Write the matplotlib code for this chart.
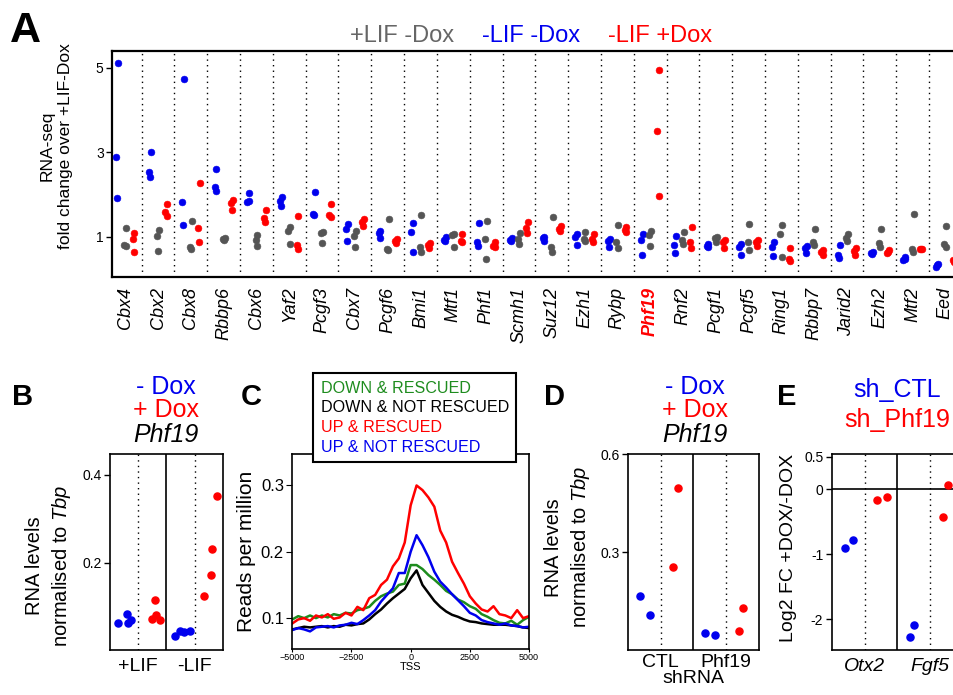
import numpy as np
import matplotlib
matplotlib.use("Agg")
import matplotlib.pyplot as plt

plt.rcParams['font.family'] = ['Liberation Sans', 'DejaVu Sans']
plt.rcParams['mathtext.fontset'] = 'custom'
plt.rcParams['mathtext.rm'] = 'Liberation Sans'
plt.rcParams['mathtext.it'] = 'Liberation Sans:italic'

# ---- panel A data : RNA-seq fold change over +LIF-Dox (3 replicates each)
genes = ['Cbx4', 'Cbx2', 'Cbx8', 'Rbbp6', 'Cbx6', 'Yaf2', 'Pcgf3', 'Cbx7', 'Pcgf6',
         'Bmi1', 'Mtf1', 'Phf1', 'Scmh1', 'Suz12', 'Ezh1', 'Rybp', 'Phf19', 'Rnf2',
         'Pcgf1', 'Pcgf5', 'Ring1', 'Rbbp7', 'Jarid2', 'Ezh2', 'Mtf2', 'Eed']
lif_nodox = [[1.22, 0.82, 0.78], [1.16, 1.02, 0.67], [1.37, 0.76, 0.72], [0.98, 0.95, 0.93],
             [1.05, 0.92, 0.79], [1.23, 1.13, 0.83], [1.11, 1.09, 0.85], [1.13, 1.02, 0.77],
             [1.42, 0.71, 0.70], [1.51, 0.76, 0.64], [1.07, 1.05, 0.77], [1.37, 0.96, 0.49],
             [1.09, 0.95, 0.83], [1.48, 0.77, 0.64], [1.11, 0.95, 0.90], [1.28, 0.87, 0.75],
             [1.13, 1.04, 0.79], [1.12, 0.93, 0.84], [1.01, 0.98, 0.87], [1.30, 0.88, 0.68],
             [1.28, 1.08, 0.53], [1.19, 0.89, 0.81], [1.06, 0.97, 0.90], [1.19, 0.85, 0.77],
             [1.55, 0.71, 0.64], [1.27, 0.84, 0.76]]
nolif_nodox = [[5.12, 2.89, 1.92], [3.00, 2.53, 2.41], [4.74, 1.83, 1.29], [2.60, 2.19, 2.08],
               [2.04, 1.83, 1.85], [1.94, 1.85, 1.73], [2.07, 1.54, 1.52], [1.30, 1.19, 0.90],
               [1.13, 1.09, 0.98], [1.33, 1.12, 0.65], [1.01, 0.94, 0.90], [1.33, 0.87, 0.79],
               [0.98, 0.94, 0.90], [0.99, 0.98, 0.90], [1.06, 1.01, 0.80], [0.95, 0.90, 0.77],
               [1.06, 0.92, 0.58], [1.02, 0.80, 0.63], [0.83, 0.79, 0.77], [0.84, 0.76, 0.58],
               [0.87, 0.76, 0.56], [0.79, 0.74, 0.61], [0.81, 0.57, 0.50], [0.65, 0.61, 0.59],
               [0.53, 0.45, 0.48], [0.36, 0.30, 0.34]]
nolif_dox = [[1.09, 0.95, 0.64], [1.77, 1.58, 1.50], [2.27, 1.21, 0.87], [1.88, 1.80, 1.64],
             [1.63, 1.46, 1.35], [1.49, 0.82, 0.71], [1.77, 1.51, 1.47], [1.43, 1.35, 1.26],
             [0.96, 0.90, 0.86], [0.85, 0.80, 0.75], [1.08, 0.90, 0.88], [0.87, 0.79, 0.76],
             [1.36, 1.22, 1.09], [1.26, 1.18, 1.13], [1.06, 0.95, 0.88], [1.24, 1.17, 1.11],
             [4.95, 3.51, 1.97], [1.23, 0.87, 0.75], [0.93, 0.87, 0.73], [0.93, 0.89, 0.79],
             [0.73, 0.49, 0.42], [0.69, 0.64, 0.57], [0.75, 0.67, 0.57], [0.68, 0.61, 0.65],
             [0.72, 0.72, 0.71], [0.42, 0.45, 0.40]]

# ---- panel B data : qPCR Phf19 / Tbp
b_groups = ['+LIF', '-LIF']
b_nodox = [[0.062, 0.082, 0.062, 0.068], [0.031, 0.043, 0.041, 0.044]]
b_dox = [[0.071, 0.115, 0.081, 0.068], [0.123, 0.172, 0.230, 0.351]]

# ---- panel C data : ChIP profiles around TSS
tss = np.arange(-5000, 5001, 250)
down_rescued = [0.098, 0.103, 0.100, 0.104, 0.100, 0.104, 0.101, 0.106, 0.104, 0.108, 0.107,
                0.112, 0.114, 0.117, 0.126, 0.133, 0.137, 0.140, 0.150, 0.152, 0.180, 0.180,
                0.174, 0.165, 0.158, 0.150, 0.141, 0.136, 0.128, 0.124, 0.118, 0.114, 0.106,
                0.102, 0.097, 0.093, 0.092, 0.096, 0.090, 0.097, 0.102]
down_not_rescued = [0.083, 0.085, 0.087, 0.086, 0.087, 0.088, 0.086, 0.088, 0.087, 0.090, 0.089,
                    0.091, 0.092, 0.098, 0.106, 0.113, 0.122, 0.130, 0.137, 0.144, 0.160, 0.172,
                    0.150, 0.138, 0.126, 0.117, 0.110, 0.105, 0.102, 0.098, 0.095, 0.094, 0.092,
                    0.091, 0.090, 0.090, 0.090, 0.089, 0.088, 0.086, 0.085]
up_rescued = [0.092, 0.098, 0.100, 0.096, 0.104, 0.101, 0.106, 0.099, 0.101, 0.108, 0.104,
              0.117, 0.112, 0.130, 0.135, 0.150, 0.158, 0.178, 0.190, 0.214, 0.270, 0.300,
              0.293, 0.282, 0.268, 0.232, 0.214, 0.185, 0.168, 0.152, 0.133, 0.122, 0.113,
              0.110, 0.118, 0.106, 0.104, 0.100, 0.112, 0.100, 0.103]
up_not_rescued = [0.082, 0.085, 0.083, 0.080, 0.086, 0.087, 0.088, 0.086, 0.089, 0.090, 0.093,
                  0.091, 0.097, 0.104, 0.112, 0.125, 0.135, 0.145, 0.168, 0.168, 0.200, 0.225,
                  0.210, 0.192, 0.170, 0.155, 0.146, 0.136, 0.127, 0.118, 0.108, 0.104, 0.097,
                  0.094, 0.092, 0.090, 0.092, 0.089, 0.088, 0.086, 0.087]

# ---- panel D data : shRNA Phf19 / Tbp
d_groups = ['CTL', 'Phf19']
d_nodox = [[0.165, 0.108], [0.051, 0.045]]
d_dox = [[0.254, 0.498], [0.059, 0.128]]

# ---- panel E data : log2 FC +DOX/-DOX
e_groups = ['Otx2', 'Fgf5']
e_ctl = [[-0.908, -0.776], [-2.27, -2.08]]
e_phf19 = [[-0.158, -0.122], [-0.423, 0.071]]

GRAY = '#555555'
BLUE = '#0000ee'
RED = '#ff0000'
GREEN = '#1e8c1e'

W, H = 954, 695
fig = plt.figure(figsize=(W / 100, H / 100), dpi=100)


def box(l, t, r, b):
    return [l / W, 1 - b / H, (r - l) / W, (b - t) / H]


def ftext(x, y, s, **kw):
    fig.text(x / W, 1 - y / H, s, **kw)


# ================= A =================
axA = fig.add_axes(box(112, 51, 965, 277))
jit = [0.03, -0.03, 0.01]
for vals, off, col in [(nolif_nodox, -0.25, BLUE), (lif_nodox, 0.0, GRAY), (nolif_dox, 0.25, RED)]:
    for i, reps in enumerate(vals):
        xs = [i + off + j for j in jit]
        axA.scatter(xs, reps, s=24, color=col, edgecolors=col, linewidths=0.4, zorder=3)
for i in range(len(genes) - 1):
    axA.axvline(i + 0.5, color='black', ls=(0, (1, 3)), lw=1.0)
axA.set_xlim(-0.405, 25.6)
axA.set_ylim(0.053, 5.4)
axA.set_yticks([1, 3, 5])
axA.set_yticklabels(['1', '3', '5'], fontsize=10)
axA.set_xticks(range(len(genes)))
axA.set_xticklabels(genes, rotation=90, fontsize=13, style='italic', va='top', ha='center')
for lab in axA.get_xticklabels():
    if lab.get_text() == 'Phf19':
        lab.set_color(RED)
        lab.set_fontweight('bold')
axA.tick_params(axis='x', length=0, pad=7)
axA.tick_params(axis='y', length=4, width=1, pad=2)
for sp in axA.spines.values():
    sp.set_linewidth(1.6)
axA.set_ylabel('RNA-seq\nfold change over +LIF-Dox', fontsize=12.5, linespacing=1.3)
axA.yaxis.set_label_coords(-0.046, 0.58)
ftext(10, 42, 'A', fontsize=31, fontweight='bold', va='baseline')
ftext(350, 42, '+LIF -Dox', fontsize=17, color='#666666', va='baseline')
ftext(482, 42, '-LIF -Dox', fontsize=17, color=BLUE, va='baseline')
ftext(608, 42, '-LIF +Dox', fontsize=17, color=RED, va='baseline')


def strip_axes(ax, groups, italic=False):
    ax.set_xlim(0, 2)
    ax.axvline(1.0, color='black', lw=1.2)
    for xx in (0.5, 1.5):
        ax.axvline(xx, color='black', ls=(0, (1, 3)), lw=1.0)
    ax.set_xticks([0.5, 1.5])
    ax.set_xticklabels(groups, fontsize=14, style='italic' if italic else 'normal')
    ax.tick_params(axis='x', length=0, pad=6)
    ax.tick_params(axis='y', length=4, width=1, labelsize=10, pad=2)
    for sp in ax.spines.values():
        sp.set_linewidth(1.2)


def titles(cx, lines):
    ys = [394, 417, 442]
    for (s, col, st), y in zip(lines, ys):
        ftext(cx, y, s, fontsize=18, color=col, style=st, ha='center', va='baseline')


# ================= B =================
axB = fig.add_axes(box(110, 454, 223, 650))
b_off_nodox = [[-0.35, -0.20, -0.19, -0.12], [-0.35, -0.26, -0.19, -0.08]]
b_off_dox = [[0.24, 0.30, 0.31, 0.39], [0.16, 0.29, 0.30, 0.39]]
for g in range(2):
    axB.scatter([g + 0.5 + o for o in b_off_nodox[g]], b_nodox[g], s=26, color=BLUE, zorder=3)
    axB.scatter([g + 0.5 + o for o in b_off_dox[g]], b_dox[g], s=26, color=RED, zorder=3)
strip_axes(axB, b_groups)
axB.set_ylim(0, 0.448)
axB.set_yticks([0.2, 0.4])
axB.set_ylabel('RNA levels\nnormalised to $\\it{Tbp}$', fontsize=14.5, linespacing=1.35)
axB.yaxis.set_label_coords(-0.33, 0.43)
ftext(12, 405, 'B', fontsize=21, fontweight='bold', va='baseline')
titles(166, [('- Dox', BLUE, 'normal'), ('+ Dox', RED, 'normal'), ('Phf19', 'black', 'italic')])

# ================= C =================
axC = fig.add_axes(box(292.3, 454.3, 529, 649.3))
axC.plot(tss, down_rescued, color=GREEN, lw=1.8, label='DOWN & RESCUED')
axC.plot(tss, down_not_rescued, color='black', lw=1.8, label='DOWN & NOT RESCUED')
axC.plot(tss, up_not_rescued, color=BLUE, lw=1.8, label='UP & NOT RESCUED')
axC.plot(tss, up_rescued, color=RED, lw=1.8, label='UP & RESCUED')
axC.set_xlim(-5000, 5000)
axC.set_ylim(0.053, 0.347)
axC.set_yticks([0.1, 0.2, 0.3])
axC.set_xticks([-5000, -2500, 0, 2500, 5000])
axC.tick_params(axis='x', labelsize=6.5, length=2, pad=1)
axC.tick_params(axis='y', labelsize=12, length=4, pad=2)
axC.set_xlabel('TSS', fontsize=8, labelpad=0)
axC.set_ylabel('Reads per million', fontsize=15)
axC.yaxis.set_label_coords(-0.153, 0.5)
for sp in axC.spines.values():
    sp.set_linewidth(1.2)
hs, ls = axC.get_legend_handles_labels()
order = [0, 1, 3, 2]
leg = axC.legend([hs[k] for k in order], [ls[k] for k in order], loc='upper left',
                 bbox_to_anchor=(313.3 / W, 1 - 373.3 / H), bbox_transform=fig.transFigure,
                 borderaxespad=0, fontsize=11.6, handlelength=0, handletextpad=0,
                 labelspacing=0.3, borderpad=0.45, fancybox=False, framealpha=1)
leg.get_frame().set_edgecolor('black')
leg.get_frame().set_linewidth(1.5)
for txt, col in zip(leg.get_texts(), [GREEN, 'black', RED, BLUE]):
    txt.set_color(col)
for hd in leg.legend_handles:
    hd.set_visible(False)
ftext(241, 405, 'C', fontsize=21, fontweight='bold', va='baseline')

# ================= D =================
axD = fig.add_axes(box(627.7, 454.3, 759, 650))
d_off_nodox = [[-0.31, -0.165], [-0.32, -0.17]]
d_off_dox = [[0.19, 0.26], [0.19, 0.26]]
for g in range(2):
    axD.scatter([g + 0.5 + o for o in d_off_nodox[g]], d_nodox[g], s=26, color=BLUE, zorder=3)
    axD.scatter([g + 0.5 + o for o in d_off_dox[g]], d_dox[g], s=26, color=RED, zorder=3)
strip_axes(axD, d_groups)
axD.tick_params(axis='x', pad=3)
axD.set_ylim(0, 0.6)
axD.set_yticks([0.3, 0.6])
axD.set_xlabel('shRNA', fontsize=14, labelpad=-1)
axD.set_ylabel('RNA levels\nnormalised to $\\it{Tbp}$', fontsize=14.5, linespacing=1.35)
axD.yaxis.set_label_coords(-0.27, 0.525)
ftext(544, 405, 'D', fontsize=21, fontweight='bold', va='baseline')
titles(695, [('- Dox', BLUE, 'normal'), ('+ Dox', RED, 'normal'), ('Phf19', 'black', 'italic')])

# ================= E =================
axE = fig.add_axes(box(831.7, 454.3, 963, 650))
e_off_ctl = [[-0.29, -0.18], [-0.30, -0.24]]
e_off_phf = [[0.19, 0.34], [0.19, 0.27]]
for g in range(2):
    axE.scatter([g + 0.5 + o for o in e_off_ctl[g]], e_ctl[g], s=26, color=BLUE, zorder=3)
    axE.scatter([g + 0.5 + o for o in e_off_phf[g]], e_phf19[g], s=26, color=RED, zorder=3)
strip_axes(axE, e_groups, italic=True)
axE.axhline(0, color='black', lw=1.2)
axE.set_ylim(-2.47, 0.54)
axE.set_yticks([0.5, 0, -1, -2])
axE.set_yticklabels(['0.5', '0', '-1', '-2'])
axE.set_ylabel('Log2 FC +DOX/-DOX', fontsize=14)
axE.yaxis.set_label_coords(-0.264, 0.52)
ftext(777, 405, 'E', fontsize=21, fontweight='bold', va='baseline')
ftext(897, 397, 'sh_CTL', fontsize=18, color=BLUE, ha='center', va='baseline')
ftext(897, 427, 'sh_Phf19', fontsize=18, color=RED, ha='center', va='baseline')

fig.savefig('out.png', dpi=100)
